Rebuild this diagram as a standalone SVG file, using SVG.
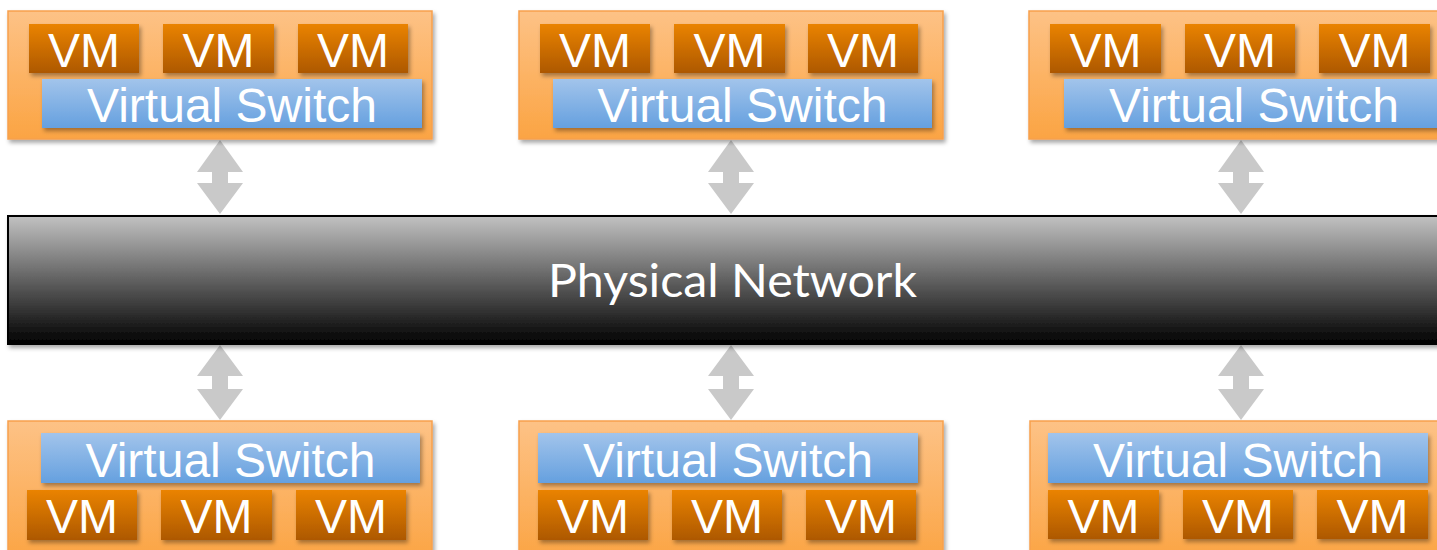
<svg xmlns="http://www.w3.org/2000/svg" width="1437" height="550" viewBox="0 0 1437 550">
  <defs>
    <linearGradient id="gHost" x1="0" y1="0" x2="0" y2="1">
      <stop offset="0" stop-color="#fdc286"/>
      <stop offset="1" stop-color="#fba443"/>
    </linearGradient>
    <linearGradient id="gVm" x1="0" y1="0" x2="0" y2="1">
      <stop offset="0" stop-color="#ea8305"/>
      <stop offset="1" stop-color="#ad5800"/>
    </linearGradient>
    <linearGradient id="gSw" x1="0" y1="0" x2="0" y2="1">
      <stop offset="0" stop-color="#a2c4eb"/>
      <stop offset="1" stop-color="#65a0df"/>
    </linearGradient>
    <linearGradient id="gNet" x1="0" y1="0" x2="0" y2="1">
      <stop offset="0" stop-color="#c2c2c2"/>
      <stop offset="1" stop-color="#000000"/>
    </linearGradient>
    <filter id="shadow" x="-10%" y="-20%" width="130%" height="150%">
      <feDropShadow dx="2" dy="3" stdDeviation="2" flood-color="#000" flood-opacity="0.35"/>
    </filter>
  </defs>
  <style>
    .host { fill: url(#gHost); stroke: #f7a04c; stroke-width: 1.5; filter: url(#shadow); }
    .vm { fill: url(#gVm); filter: url(#shadow); }
    .sw { fill: url(#gSw); filter: url(#shadow); }
    .lbl { font-family: "Liberation Sans", Arial, sans-serif; font-size: 48px; fill: #ffffff; text-anchor: middle; }
    .arrow { fill: #c9c9c9; }
    .net { fill: url(#gNet); stroke: #000; stroke-width: 2; filter: url(#shadow); }
    .netlbl { font-family: Lato, "Open Sans", sans-serif; font-size: 46px; fill: #ffffff; text-anchor: middle; }
  </style>

  <!-- connectors: double-headed arrows between hosts and the physical network -->
  <g id="connectors">
    <path class="arrow" d="M220,140 L243,172 L228,172 L228,183 L243,183 L220,214 L197,183 L212,183 L212,172 L197,172 Z"/>
    <path class="arrow" d="M731,140 L754,172 L739,172 L739,183 L754,183 L731,214 L708,183 L723,183 L723,172 L708,172 Z"/>
    <path class="arrow" d="M1241,140 L1264,172 L1249,172 L1249,183 L1264,183 L1241,214 L1218,183 L1233,183 L1233,172 L1218,172 Z"/>
    <path class="arrow" d="M220,345 L243,376 L228,376 L228,389 L243,389 L220,420 L197,389 L212,389 L212,376 L197,376 Z"/>
    <path class="arrow" d="M731,345 L754,376 L739,376 L739,389 L754,389 L731,420 L708,389 L723,389 L723,376 L708,376 Z"/>
    <path class="arrow" d="M1241,345 L1264,376 L1249,376 L1249,389 L1264,389 L1241,420 L1218,389 L1233,389 L1233,376 L1218,376 Z"/>
  </g>

  <!-- physical network -->
  <g id="physical-network">
    <rect class="net" x="8" y="216" width="1450" height="128"/>
    <text class="netlbl" x="732.5" y="297" textLength="369" lengthAdjust="spacingAndGlyphs">Physical Network</text>
  </g>

  <!-- top row hosts -->
  <g id="host-top-1">
    <rect class="host" x="8" y="11" width="424" height="128"/>
    <rect class="vm" x="29" y="24" width="110" height="49"/>
    <rect class="vm" x="163" y="24" width="111" height="49"/>
    <rect class="vm" x="298" y="24" width="110" height="49"/>
    <rect class="sw" x="42" y="79" width="380" height="49"/>
    <text class="lbl" x="84" y="67">VM</text>
    <text class="lbl" x="218.5" y="67">VM</text>
    <text class="lbl" x="353" y="67">VM</text>
    <text class="lbl" x="232" y="122">Virtual Switch</text>
  </g>
  <g id="host-top-2">
    <rect class="host" x="519" y="11" width="424" height="128"/>
    <rect class="vm" x="540" y="24" width="110" height="49"/>
    <rect class="vm" x="674" y="24" width="111" height="49"/>
    <rect class="vm" x="808" y="24" width="110" height="49"/>
    <rect class="sw" x="553" y="79" width="379" height="49"/>
    <text class="lbl" x="595" y="67">VM</text>
    <text class="lbl" x="729.5" y="67">VM</text>
    <text class="lbl" x="863" y="67">VM</text>
    <text class="lbl" x="742.5" y="122">Virtual Switch</text>
  </g>
  <g id="host-top-3">
    <rect class="host" x="1029" y="11" width="424" height="128"/>
    <rect class="vm" x="1050" y="24" width="111" height="49"/>
    <rect class="vm" x="1185" y="24" width="110" height="49"/>
    <rect class="vm" x="1319" y="24" width="111" height="49"/>
    <rect class="sw" x="1064" y="79" width="380" height="49"/>
    <text class="lbl" x="1105.5" y="67">VM</text>
    <text class="lbl" x="1240" y="67">VM</text>
    <text class="lbl" x="1374.5" y="67">VM</text>
    <text class="lbl" x="1254" y="122">Virtual Switch</text>
  </g>

  <!-- bottom row hosts -->
  <g id="host-bottom-1">
    <rect class="host" x="8" y="421" width="424" height="140"/>
    <rect class="sw" x="41" y="433" width="379" height="50"/>
    <rect class="vm" x="27" y="490" width="110" height="50"/>
    <rect class="vm" x="161" y="490" width="111" height="50"/>
    <rect class="vm" x="296" y="490" width="110" height="50"/>
    <text class="lbl" x="230.5" y="477">Virtual Switch</text>
    <text class="lbl" x="82" y="533">VM</text>
    <text class="lbl" x="216.5" y="533">VM</text>
    <text class="lbl" x="351" y="533">VM</text>
  </g>
  <g id="host-bottom-2">
    <rect class="host" x="519" y="421" width="424" height="140"/>
    <rect class="sw" x="538" y="433" width="380" height="50"/>
    <rect class="vm" x="538" y="490" width="110" height="50"/>
    <rect class="vm" x="672" y="490" width="110" height="50"/>
    <rect class="vm" x="806" y="490" width="110" height="50"/>
    <text class="lbl" x="728" y="477">Virtual Switch</text>
    <text class="lbl" x="593" y="533">VM</text>
    <text class="lbl" x="727" y="533">VM</text>
    <text class="lbl" x="861" y="533">VM</text>
  </g>
  <g id="host-bottom-3">
    <rect class="host" x="1030" y="421" width="424" height="140"/>
    <rect class="sw" x="1048" y="433" width="380" height="50"/>
    <rect class="vm" x="1048" y="490" width="111" height="49"/>
    <rect class="vm" x="1183" y="490" width="110" height="49"/>
    <rect class="vm" x="1317" y="490" width="111" height="49"/>
    <text class="lbl" x="1238" y="477">Virtual Switch</text>
    <text class="lbl" x="1103.5" y="533">VM</text>
    <text class="lbl" x="1238" y="533">VM</text>
    <text class="lbl" x="1372.5" y="533">VM</text>
  </g>
</svg>
